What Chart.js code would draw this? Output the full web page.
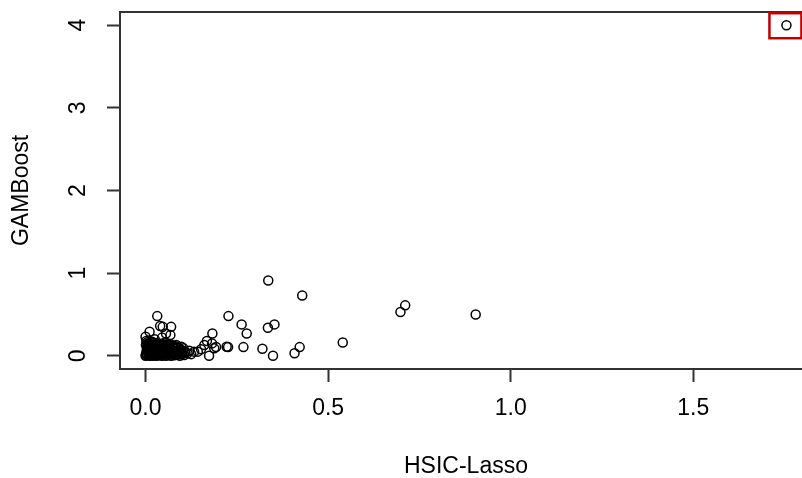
<!DOCTYPE html>
<html>
<head>
<meta charset="utf-8">
<script src="https://cdn.jsdelivr.net/npm/chart.js@4/dist/chart.umd.min.js"></script>
<style>
  html, body { margin: 0; padding: 0; background: #fff; overflow: hidden; }
  #wrap { width: 802px; height: 478px; overflow: hidden; }
</style>
</head>
<body>
<div id="wrap"><canvas id="plot" width="830" height="478"></canvas></div>
<script>
// HSIC-Lasso (x) vs GAMBoost (y)
const hsicLasso = [
  1.755,
  0.336, 0.429, 0.711, 0.698, 0.904, 0.540,
  0.227, 0.263, 0.277, 0.335, 0.353, 0.320, 0.349, 0.408, 0.422, 0.268, 0.222, 0.226,
  0.183, 0.168, 0.161, 0.152, 0.174, 0.188, 0.182, 0.193, 0.143, 0.133, 0.125, 0.120, 0.115,
  0.032, 0.040, 0.047, 0.070, 0.011, 0.000, 0.056, 0.068, 0.045, 0.025,
  0.000, 0.001, 0.002, 0.003, 0.004, 0.005, 0.006, 0.002, 0.008, 0.009,
  0.010, 0.011, 0.012, 0.013, 0.015, 0.016, 0.017, 0.018, 0.020, 0.021,
  0.022, 0.024, 0.025, 0.026, 0.028, 0.030, 0.031, 0.032, 0.034, 0.035,
  0.037, 0.038, 0.040, 0.041, 0.043, 0.045, 0.046, 0.048, 0.050, 0.051,
  0.053, 0.055, 0.056, 0.058, 0.060, 0.061, 0.063, 0.065, 0.066, 0.068,
  0.070, 0.071, 0.073, 0.075, 0.077, 0.079, 0.080, 0.082, 0.084, 0.086,
  0.088, 0.090, 0.092, 0.094, 0.096, 0.098, 0.100, 0.102, 0.104, 0.106, 0.108,
  0.003, 0.011, 0.019, 0.027, 0.035, 0.043, 0.051, 0.059, 0.067, 0.075, 0.083, 0.091, 0.099,
  0.007, 0.015, 0.023, 0.031, 0.039, 0.047, 0.055, 0.063, 0.071, 0.079, 0.087, 0.095,
  0.004, 0.012, 0.020, 0.028, 0.036, 0.044, 0.052, 0.060, 0.068, 0.076, 0.084, 0.092,
  0.001, 0.009, 0.017, 0.026, 0.034, 0.042, 0.050, 0.058, 0.066, 0.074, 0.082,
  0.005, 0.014, 0.023, 0.033, 0.041, 0.049, 0.062
];
const gamBoost = [
  4.000,
  0.910, 0.730, 0.610, 0.530, 0.500, 0.160,
  0.480, 0.380, 0.270, 0.340, 0.380, 0.085, 0.000, 0.030, 0.105, 0.105, 0.110, 0.105,
  0.270, 0.180, 0.130, 0.080, 0.000, 0.090, 0.150, 0.107, 0.050, 0.050, 0.020, 0.060, 0.030,
  0.480, 0.360, 0.350, 0.350, 0.290, 0.230, 0.270, 0.250, 0.220, 0.200,
  0.000, 0.010, 0.030, 0.060, 0.090, 0.120, 0.150, 0.180, 0.005, 0.040,
  0.075, 0.110, 0.000, 0.140, 0.020, 0.055, 0.095, 0.170, 0.000, 0.035,
  0.125, 0.070, 0.010, 0.100, 0.045, 0.000, 0.150, 0.080, 0.020, 0.115,
  0.055, 0.005, 0.090, 0.135, 0.030, 0.000, 0.065, 0.110, 0.015, 0.045,
  0.160, 0.085, 0.000, 0.030, 0.120, 0.060, 0.010, 0.095, 0.040, 0.140,
  0.000, 0.075, 0.025, 0.110, 0.050, 0.005, 0.090, 0.035, 0.130, 0.060,
  0.015, 0.100, 0.040, 0.000, 0.075, 0.110, 0.030, 0.060, 0.090, 0.010, 0.045,
  0.020, 0.025, 0.018, 0.022, 0.020, 0.015, 0.022, 0.018, 0.020, 0.025, 0.015, 0.020, 0.018,
  0.058, 0.062, 0.055, 0.060, 0.058, 0.063, 0.057, 0.060, 0.055, 0.062, 0.058, 0.055,
  0.098, 0.102, 0.095, 0.100, 0.098, 0.103, 0.097, 0.100, 0.095, 0.102, 0.098, 0.070,
  0.130, 0.128, 0.132, 0.125, 0.130, 0.128, 0.122, 0.130, 0.125, 0.120, 0.115,
  0.165, 0.160, 0.155, 0.150, 0.145, 0.140, 0.135
];
const xTicks = [0, 0.5, 1.0, 1.5];
const yTicks = [0, 1, 2, 3, 4];
const xLabel = "HSIC-Lasso";
const yLabel = "GAMBoost";
const highlighted = 0; // index of the boxed point

const ink = "#333";
const font = { family: "'Liberation Sans', Arial, sans-serif", size: 23, lineHeight: 1 };

const points = hsicLasso.map((x, i) => ({ x: x, y: gamBoost[i] }));

// box round the plot region, like R's box()
const frame = {
  id: "frame",
  afterDraw(chart) {
    const { ctx, chartArea: a } = chart;
    ctx.save();
    ctx.strokeStyle = ink;
    ctx.lineWidth = 2;
    ctx.strokeRect(a.left, a.top, a.right - a.left, a.bottom - a.top);
    ctx.restore();
  }
};

// red marker round the outlying point
const marker = {
  id: "marker",
  afterDraw(chart) {
    const { ctx, scales } = chart;
    const px = scales.x.getPixelForValue(hsicLasso[highlighted]);
    const py = scales.y.getPixelForValue(gamBoost[highlighted]);
    ctx.save();
    ctx.strokeStyle = "#c00000";
    ctx.lineWidth = 2.5;
    ctx.strokeRect(px - 17, py - 12, 32, 25);
    ctx.restore();
  }
};

new Chart(document.getElementById("plot"), {
  type: "scatter",
  data: {
    datasets: [{
      data: points,
      pointStyle: "circle",
      pointRadius: 4.5,
      pointHoverRadius: 4.5,
      borderColor: "#000",
      backgroundColor: "rgba(0,0,0,0)",
      borderWidth: 1.5
    }]
  },
  options: {
    responsive: false,
    animation: false,
    layout: { padding: { top: 12, right: 18, left: 0, bottom: 0 } },
    plugins: { legend: { display: false }, tooltip: { enabled: false } },
    scales: {
      x: {
        type: "linear",
        min: -0.07,
        max: 1.825,
        afterBuildTicks: s => { s.ticks = xTicks.map(v => ({ value: v })); },
        afterFit: s => { s.height = 109; s.paddingLeft = 0; s.paddingRight = 0; },
        grid: { drawOnChartArea: false, drawTicks: true, tickLength: 13, tickColor: ink, tickWidth: 2 },
        border: { display: false },
        ticks: { color: "#000", font: font, padding: 15, maxRotation: 0, callback: v => v.toFixed(1) },
        title: { display: true, text: xLabel, color: "#000", font: font, padding: { top: 0, bottom: 0 } }
      },
      y: {
        type: "linear",
        min: -0.16,
        max: 4.16,
        afterBuildTicks: s => { s.ticks = yTicks.map(v => ({ value: v })); },
        afterFit: s => { s.width = 120; s.paddingTop = 0; s.paddingBottom = 0; },
        grid: { drawOnChartArea: false, drawTicks: true, tickLength: 13, tickColor: ink, tickWidth: 2 },
        border: { display: false },
        ticks: { color: "#000", font: font, padding: 22, minRotation: 90, maxRotation: 90, crossAlign: "center", callback: v => String(v) },
        title: { display: true, text: yLabel, color: "#000", font: font, padding: { top: 10, bottom: 0 } }
      }
    }
  },
  plugins: [frame, marker]
});
</script>
</body>
</html>
